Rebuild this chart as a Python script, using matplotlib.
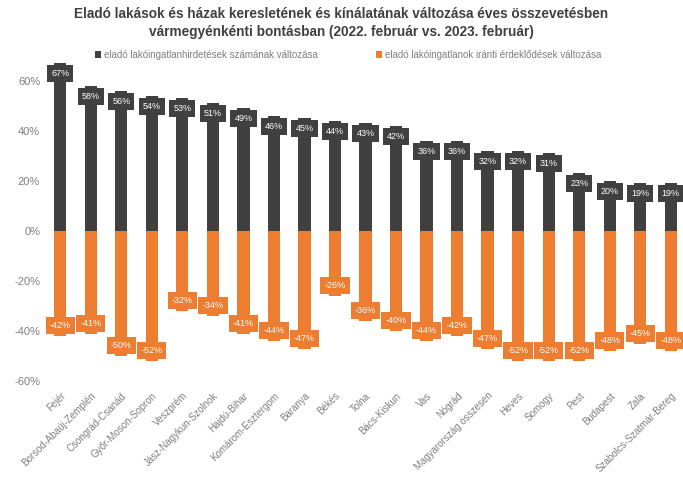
import matplotlib

matplotlib.use("Agg")
import matplotlib.pyplot as plt
import numpy as np

plt.rcParams["font.family"] = ["Liberation Sans", "DejaVu Sans"]

CATEGORIES = [
    "Fejér", "Borsod-Abaúj-Zemplén", "Csongrád-Csanád", "Győr-Moson-Sopron",
    "Veszprém", "Jász-Nagykun-Szolnok", "Hajdú-Bihar", "Komárom-Esztergom",
    "Baranya", "Békés", "Tolna", "Bács-Kiskun", "Vas", "Nógrád",
    "Magyarország összesen", "Heves", "Somogy", "Pest", "Budapest", "Zala",
    "Szabolcs-Szatmár-Bereg",
]
# hirdetések számának változása (%)
ADS_CHANGE = [67, 58, 56, 54, 53, 51, 49, 46, 45, 44, 43, 42, 36, 36,
              32, 32, 31, 23, 20, 19, 19]
# érdeklődések változása (%)
INTEREST_CHANGE = [-42, -41, -50, -52, -32, -34, -41, -44, -47, -26, -36, -40,
                   -44, -42, -47, -52, -52, -52, -48, -45, -48]

LEGEND_ADS = "eladó lakóingatlanhirdetések számának változása"
LEGEND_INT = "eladó lakóingatlanok iránti érdeklődések változása"
TITLE = ("Eladó lakások és házak keresletének és kínálatának változása éves összevetésben\n"
         "vármegyénkénti bontásban (2022. február vs. 2023. február)")

DARK = "#404040"
ORANGE = "#ED7D31"
GREY = "#7F7F7F"

fig = plt.figure(figsize=(6.83, 4.86), dpi=100)
ax = fig.add_axes([45 / 683, 105 / 486, 641 / 683, 325 / 486])

x = np.arange(len(CATEGORIES))
bw = 0.4
ax.bar(x, ADS_CHANGE, width=bw, color=DARK, label=LEGEND_ADS, zorder=2)
ax.bar(x, INTEREST_CHANGE, width=bw, color=ORANGE, label=LEGEND_INT, zorder=2)

# adatcímkék a hasábok végén (belül)
for xi, v in zip(x, ADS_CHANGE):
    ax.annotate(f"{v}%", (xi, v), textcoords="offset points", xytext=(0, -7.5),
                ha="center", va="center", fontsize=6.5, color="white", zorder=4,
                bbox=dict(boxstyle="square,pad=0.45", fc=DARK, ec="none"))
for xi, v in zip(x, INTEREST_CHANGE):
    ax.annotate(f"{v}%", (xi, v), textcoords="offset points", xytext=(0, 7.5),
                ha="center", va="center", fontsize=6.5, color="white", zorder=4,
                bbox=dict(boxstyle="square,pad=0.45", fc=ORANGE, ec="none"))

ax.set_xlim(-0.5, len(CATEGORIES) - 0.5)
ax.set_ylim(-60, 70)
ax.set_yticks(np.arange(-60, 61, 20))
ax.set_yticklabels([f"{t}%" for t in range(-60, 61, 20)], color=GREY, fontsize=8)
ax.set_xticks(x)
ax.set_xticklabels(CATEGORIES, rotation=45, ha="right", rotation_mode="anchor",
                   fontsize=7, color=GREY)
ax.tick_params(axis="both", length=0)
ax.tick_params(axis="x", pad=7)
for s in ax.spines.values():
    s.set_visible(False)

fig.text(0.5, 0.985, TITLE, ha="center", va="top", fontsize=9.8,
         fontweight="bold", color="#404040", linespacing=1.3)
fig.legend(loc="center", bbox_to_anchor=(0.51, 0.887), ncol=2, frameon=False,
           fontsize=7, labelcolor=GREY, handlelength=0.6, handleheight=0.6,
           handletextpad=0.3, columnspacing=6)

fig.savefig("out.png", dpi=100)
